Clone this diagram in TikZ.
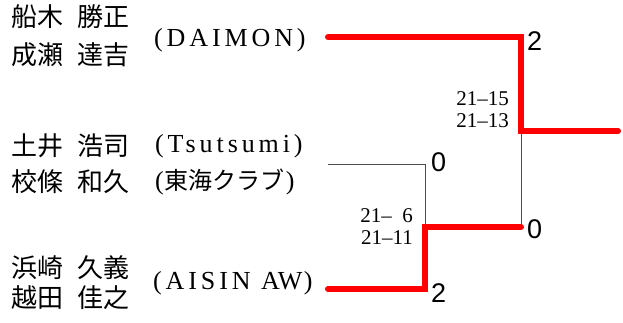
\documentclass[tikz,border=0pt]{standalone}
\usepackage{fontspec}
\setmainfont{Liberation Serif}
\newfontfamily\jp{Noto Sans CJK JP}
\newfontfamily\spaced[LetterSpace=15]{Liberation Serif}
\newfontfamily\scorefont{Liberation Sans}
\begin{document}
\begin{tikzpicture}[x=1pt,y=-1pt,
  namestyle/.style={anchor=west,inner sep=0pt,font=\jp\fontsize{26}{28}\selectfont},
  teamstyle/.style={anchor=west,inner sep=0pt,font=\spaced\fontsize{26}{28}\selectfont},
  resstyle/.style={anchor=east,inner sep=0pt,align=right,font=\fontsize{21}{23}\selectfont},
  numstyle/.style={anchor=west,inner sep=0pt,font=\scorefont\fontsize{27}{28}\selectfont},
  winline/.style={red,line width=6pt,line cap=round,line join=miter},
  loseline/.style={black!70,line width=1pt}]
\useasboundingbox (0,0) rectangle (623,322);
% names
\node[namestyle] (n1) at (11,17) {船木\hspace{14pt}勝正};
\node[namestyle] (n2) at (11,55) {成瀬\hspace{14pt}達吉};
\node[teamstyle] (t1) at (154,40) {(DAIMON)};
\node[namestyle] (n3) at (11,146) {土井\hspace{14pt}浩司};
\node[teamstyle] (t2) at (155,146) {(Tsutsumi)};
\node[namestyle] (n4) at (11,182) {校條\hspace{14pt}和久};
\node[anchor=west,inner sep=0pt,font=\fontsize{26}{28}\selectfont] (t3) at (155,182) {(\hspace{1pt}{\jp\fontsize{24}{26}\selectfont 東海クラブ}\hspace{1pt})};
\node[namestyle] (n5) at (11,268) {浜崎\hspace{14pt}久義};
\node[namestyle] (n6) at (11,298) {越田\hspace{14pt}佳之};
\node[teamstyle] (t4) at (153,283) {(AISIN {\fontsize{26}{28}\selectfont\rmfamily AW\kern1.5pt)}};
% bracket coordinates
\coordinate (a1) at (328,37);
\coordinate (a2) at (521,37);
\coordinate (f) at (521,131);
\coordinate (fo) at (618,131);
\coordinate (b1) at (328,164);
\coordinate (b2) at (425,164);
\coordinate (s) at (425,227);
\coordinate (s2) at (521,227);
\coordinate (c1) at (328,289);
\coordinate (c2) at (425,289);
\draw[loseline] (b1) -- (b2) -- (s);
\draw[loseline] (s2) -- (f);
\draw[winline] (a1) -- (a2) -- (f) -- (fo);
\draw[winline] (c1) -- (c2) -- (s) -- (s2);
% scores
\node[numstyle] (g1) at (527,41) {2};
\node[numstyle] (g2) at (431,162) {0};
\node[numstyle] (g3) at (527,229) {0};
\node[numstyle] (g4) at (431,293) {2};
\node[resstyle] (r1) at (509,110) {21–15\\[-1pt]21–13};
\node[resstyle] (r2) at (413,227) {21–\hphantom{1}6\\[-1pt]21–11};
\end{tikzpicture}
\end{document}
